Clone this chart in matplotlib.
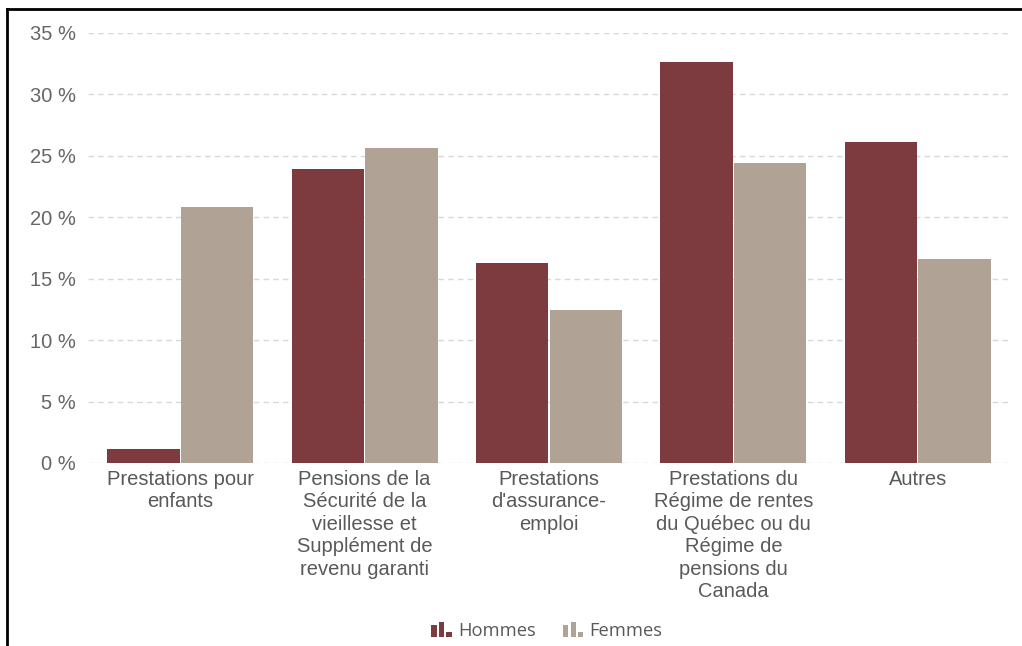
import matplotlib
matplotlib.use("Agg")
import matplotlib.pyplot as plt
import numpy as np
from matplotlib.legend_handler import HandlerBase
from matplotlib.patches import Rectangle
from matplotlib.lines import Line2D

categories = ["Prestations pour\nenfants",
              "Pensions de la\nSécurité de la\nvieillesse et\nSupplément de\nrevenu garanti",
              "Prestations\nd'assurance-\nemploi",
              "Prestations du\nRégime de rentes\ndu Québec ou du\nRégime de\npensions du\nCanada",
              "Autres"]
hommes = [1.1, 23.9, 16.3, 32.6, 26.1]
femmes = [20.8, 25.6, 12.45, 24.4, 16.6]
series_names = ["Hommes", "Femmes"]
yticks = [0, 5, 10, 15, 20, 25, 30, 35]
ytick_labels = [f"{v} %" for v in yticks]

c_h = "#7d3b40"
c_f = "#b0a396"

plt.rcParams['font.family'] = ['Liberation Sans', 'DejaVu Sans']

W, H = 1022, 646
fig = plt.figure(figsize=(W/100, H/100), dpi=100)
ax = fig.add_axes([88/W, 1-463/H, (1010-88)/W, (463-33)/H])

x = np.arange(len(categories))
bw = 0.393
ax.bar(x - bw/2 - 0.003, hommes, width=bw, color=c_h, zorder=3, label=series_names[0])
ax.bar(x + bw/2 + 0.003, femmes, width=bw, color=c_f, zorder=3, label=series_names[1])

ax.set_xlim(-0.5, 4.5)
ax.set_ylim(0, 35)
ax.set_yticks(yticks)
ax.set_yticklabels(ytick_labels, fontsize=14.5, color="#666666")
ax.set_xticks(x)
ax.set_xticklabels(categories, fontsize=14.5, color="#595959", linespacing=1.23)
ax.tick_params(axis='both', length=0)
ax.tick_params(axis='x', pad=5)
ax.tick_params(axis='y', pad=9)
for s in ax.spines.values():
    s.set_visible(False)
ax.yaxis.grid(True, color="#d8d8d8", linestyle=(0, (4, 3)), linewidth=1, zorder=0)

class BarIconHandler(HandlerBase):
    def create_artists(self, legend, orig_handle, xdescent, ydescent, width, height, fontsize, trans):
        col = orig_handle.get_facecolor()
        arts = []
        w = width / 3.0
        hs = [0.8, 1.0, 0.35]
        for i, h in enumerate(hs):
            r = Rectangle((-xdescent + i * (w + 0.8), -ydescent), w - 0.8, height * h,
                          facecolor=col, edgecolor='none', transform=trans)
            arts.append(r)
        return arts

handles = [Rectangle((0, 0), 1, 1, facecolor=c_h), Rectangle((0, 0), 1, 1, facecolor=c_f)]
leg = fig.legend(handles, series_names, loc='center', bbox_to_anchor=(547/W, 1-631/H),
                 ncol=2, frameon=False, handlelength=1.05, handleheight=0.9,
                 handletextpad=0.4, columnspacing=1.5,
                 handler_map={Rectangle: BarIconHandler()}, prop={'family': ['Open Sans', 'DejaVu Sans'], 'size': 13.2})
for t in leg.get_texts():
    t.set_color("#595959")

# border
fig.add_artist(Line2D([7/W, 7/W], [0, 1-9/H], color="black", linewidth=2, transform=fig.transFigure))
fig.add_artist(Line2D([7/W, 1], [1-9/H, 1-9/H], color="black", linewidth=2, transform=fig.transFigure))

fig.savefig("out.png", dpi=100)
